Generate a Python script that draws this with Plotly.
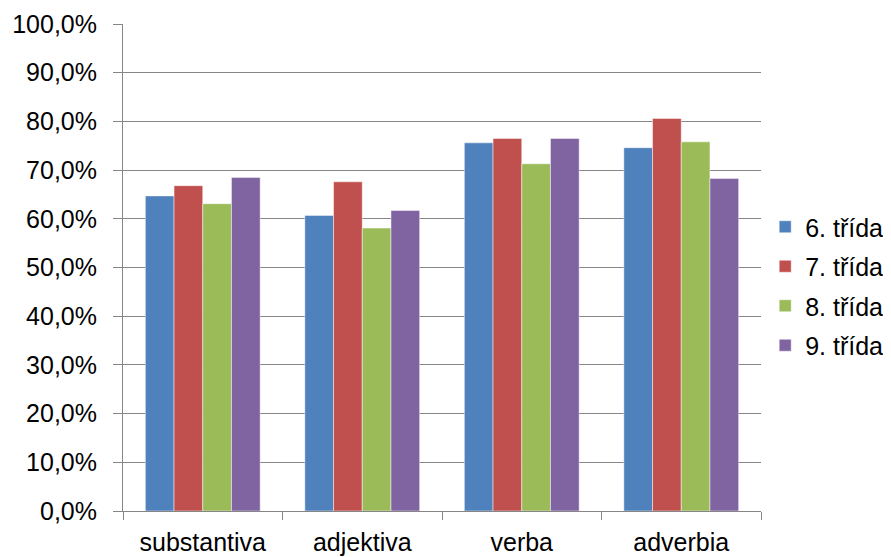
import plotly.graph_objects as go

categories = ["substantiva", "adjektiva", "verba", "adverbia"]
series_names = ["6. třída", "7. třída", "8. třída", "9. třída"]
values_6 = [0.647, 0.607, 0.756, 0.746]
values_7 = [0.668, 0.676, 0.765, 0.806]
values_8 = [0.631, 0.581, 0.713, 0.758]
values_9 = [0.685, 0.617, 0.765, 0.683]
colors = ["#4F81BD", "#C0504D", "#9BBB59", "#8064A2"]

fig = go.Figure()
for name, vals, col in zip(series_names, [values_6, values_7, values_8, values_9], colors):
    fig.add_trace(go.Bar(
        x=categories, y=vals, name=name, legendgroup=name,
        marker=dict(color=col, line=dict(color="rgba(255,255,255,0.6)", width=0.8)),
    ))

font_family = "Liberation Sans, Arial, sans-serif"
fig.update_layout(
    width=891, height=557,
    margin=dict(l=115, r=137, t=16, b=54),
    paper_bgcolor="white", plot_bgcolor="white",
    barmode="group", bargap=0.28, bargroupgap=0,
    separators=", ",
    font=dict(family=font_family, size=25, color="black"),
    showlegend=True,
    legend=dict(x=1.005, xanchor="left", y=0.462, yanchor="middle",
                font=dict(size=25), traceorder="grouped", tracegroupgap=4,
                bgcolor="rgba(0,0,0,0)"),
    xaxis=dict(showline=True, linecolor="#868686", linewidth=1,
               ticks="outside", tickson="boundaries", ticklen=8, tickcolor="#868686",
               showgrid=False, tickfont=dict(size=25), automargin=False,
               ticklabelstandoff=9),
    yaxis=dict(range=[0, 1.0], dtick=0.1, tickformat=".1%",
               showline=True, linecolor="#868686", linewidth=1,
               ticks="outside", ticklen=9, tickcolor="#868686",
               showgrid=True, gridcolor="#868686", gridwidth=1,
               zeroline=False, tickfont=dict(size=25), automargin=False,
               ticklabelstandoff=11),
)

fig.write_html("out.html")
